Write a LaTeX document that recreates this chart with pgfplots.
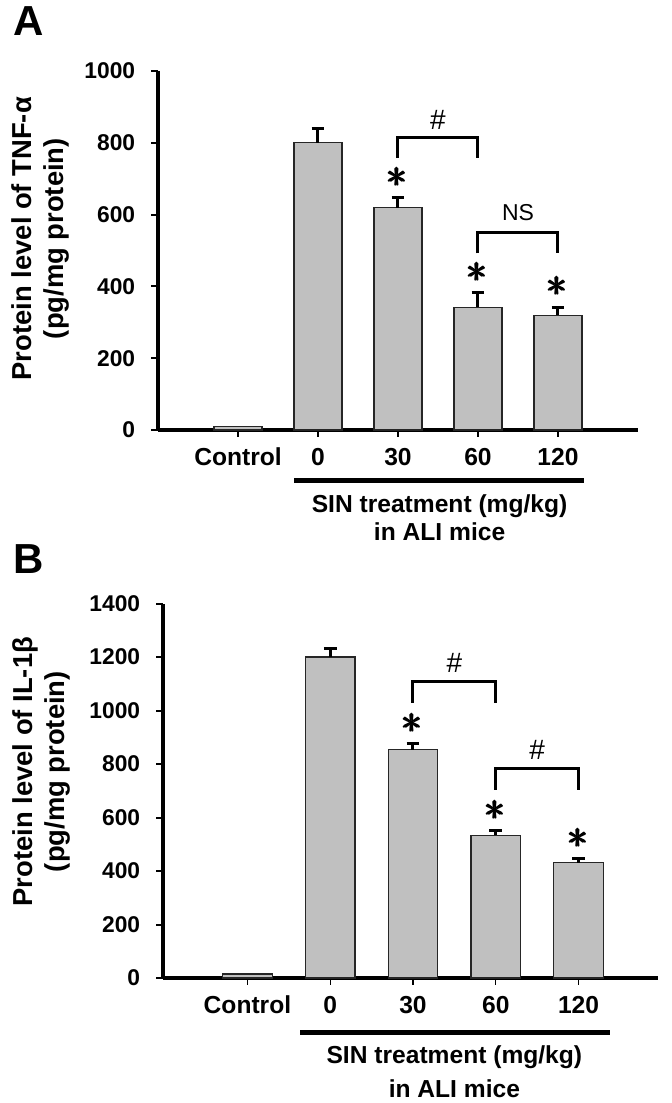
\documentclass[border=0pt]{standalone}
\usepackage{amsmath}
\usepackage{pgfplots}
\pgfplotsset{compat=1.18}
\usepackage{fontspec}
\setmainfont{Liberation Sans}
\definecolor{barfill}{RGB}{192,192,192}
\newcommand{\bast}{$\pmb{\ast}$}
\tikzset{
  sigstar/.style={font=\fontsize{21}{21}\selectfont},
  sighash/.style={font=\fontsize{14}{14}\selectfont},
  barstyle/.style={fill=barfill, draw=black!85, line width=0.6pt},
}
\pgfplotsset{
  panel/.style={
    scale only axis,
    ybar, bar width=0.6, bar shift=0pt,
    axis x line*=bottom, axis y line*=left,
    axis line style={line width=1.6pt, black},
    xtick={0,1,2,3,4}, xticklabels={Control,0,30,60,120},
    xmin=-1, xmax=5, ymin=0,
    tick align=outside,
    major tick length=3.4pt,
    xtick style={line width=0.7pt, black},
    ytick style={line width=1pt, black},
    /pgf/number format/assume math mode=true,
    /pgf/number format/1000 sep={},
    scaled y ticks=false,
    yticklabel style={font=\bfseries\fontsize{11.4}{12}\selectfont, xshift=-4.5pt},
    xticklabel style={font=\bfseries\fontsize{12.3}{13}\selectfont, yshift=-2pt},
    ylabel style={align=center, font=\bfseries\fontsize{13.7}{16}\selectfont, anchor=center, rotate=0},
    clip=false,
    error bars/y dir=plus, error bars/y explicit,
    error bars/error bar style={line width=1.5pt, black},
    error bars/error mark options={rotate=90, mark size=3.2pt, line width=1.5pt, black},
  },
}
\begin{document}
\begin{tikzpicture}
\useasboundingbox (0,0) rectangle (336pt,-551.5pt);
\node[anchor=base west, font=\bfseries\fontsize{21}{22}\selectfont, inner sep=0pt] at (6.5pt,-17.5pt) {A};
\node[anchor=base west, font=\bfseries\fontsize{21}{22}\selectfont, inner sep=0pt] at (6.5pt,-286.5pt) {B};

% Panel A
\begin{axis}[panel, at={(79pt,-215pt)}, anchor=south west,
  width=240pt, height=179.5pt, ymax=1000, ytick={0,200,...,1000},
  ylabel={Protein level of TNF-α\\(pg/mg protein)},
  ylabel style={at={(axis description cs:-0.244,0.533)}}]
\addplot[barstyle] coordinates {(0,9)};
\addplot[barstyle, error bars/.cd, y dir=plus, y explicit] coordinates {
  (1,800) +- (0,40)
  (2,619) +- (0,29)
  (3,342) +- (0,40)
  (4,320) +- (0,22)
};
\draw[line width=1.5pt] (axis cs:2,757) -- (axis cs:2,815) -- (axis cs:3,815) -- (axis cs:3,759);
\node[sighash] at (axis cs:2.5,864) {\#};
\draw[line width=1.5pt] (axis cs:3,492) -- (axis cs:3,550) -- (axis cs:4,550) -- (axis cs:4,492);
\node[font=\fontsize{11.5}{12}\selectfont] at (axis cs:3.5,605) {NS};
\node[sigstar] at (axis cs:2,704) {\bast};
\node[sigstar] at (axis cs:3,438) {\bast};
\node[sigstar] at (axis cs:4,399) {\bast};
\draw[line width=2.5pt] (axis cs:0.705,-142) -- (axis cs:4.33,-142);
\node[anchor=base, font=\bfseries\fontsize{12.3}{13}\selectfont] at (axis cs:2.52,-231) {SIN treatment (mg/kg)};
\node[anchor=base, font=\bfseries\fontsize{12.3}{13}\selectfont] at (axis cs:2.52,-309) {in ALI mice};
\end{axis}

% Panel B
\begin{axis}[panel, at={(81.5pt,-489pt)}, anchor=south west,
  width=247.5pt, height=187.25pt, ymax=1400, ytick={0,200,...,1400},
  xmin=-1.02, xmax=4.96,
  ylabel={Protein level of IL-1β\\(pg/mg protein)},
  ylabel style={at={(axis description cs:-0.246,0.551)}}]
\addplot[barstyle] coordinates {(0,15)};
\addplot[barstyle, error bars/.cd, y dir=plus, y explicit] coordinates {
  (1,1200) +- (0,33)
  (2,853) +- (0,23)
  (3,533) +- (0,19)
  (4,431) +- (0,17)
};
\draw[line width=1.5pt] (axis cs:2,1029) -- (axis cs:2,1108) -- (axis cs:3,1108) -- (axis cs:3,1027);
\node[sighash] at (axis cs:2.5,1179) {\#};
\draw[line width=1.5pt] (axis cs:3,703) -- (axis cs:3,784) -- (axis cs:4,784) -- (axis cs:4,703);
\node[sighash] at (axis cs:3.5,852) {\#};
\node[sigstar] at (axis cs:2,952) {\bast};
\node[sigstar] at (axis cs:3,628) {\bast};
\node[sigstar] at (axis cs:4,522) {\bast};
\draw[line width=2.5pt] (axis cs:0.64,-204.5) -- (axis cs:4.375,-204.5);
\node[anchor=base, font=\bfseries\fontsize{12.3}{13}\selectfont] at (axis cs:2.5,-318) {SIN treatment (mg/kg)};
\node[anchor=base, font=\bfseries\fontsize{12.3}{13}\selectfont] at (axis cs:2.5,-445) {in ALI mice};
\end{axis}
\end{tikzpicture}
\end{document}
